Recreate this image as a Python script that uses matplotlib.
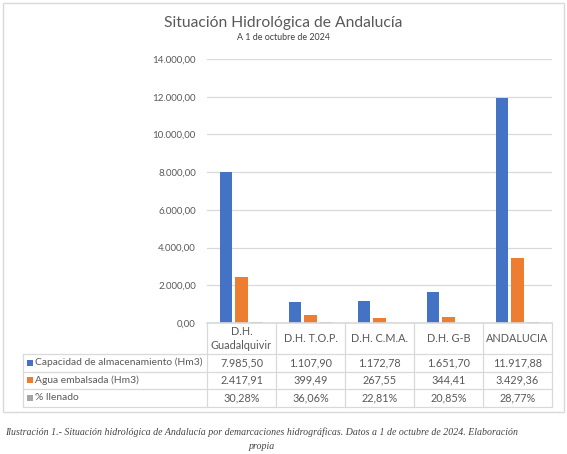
import matplotlib
matplotlib.use("Agg")
import matplotlib.pyplot as plt
import matplotlib.transforms as mtrans
from matplotlib.lines import Line2D
from matplotlib.patches import Rectangle
from matplotlib.ticker import FuncFormatter

# ---------------- data ----------------
categories = ["D.H.\nGuadalquivir", "D.H. T.O.P.", "D.H. C.M.A.", "D.H. G-B", "ANDALUCIA"]
capacidad = [7985.50, 1107.90, 1172.78, 1651.70, 11917.88]
embalsada = [2417.91, 399.49, 267.55, 344.41, 3429.36]
llenado = [30.28, 36.06, 22.81, 20.85, 28.77]
series_names = ["Capacidad de almacenamiento (Hm3)", "Agua embalsada (Hm3)", "% llenado"]
y_ticks = [0, 2000, 4000, 6000, 8000, 10000, 12000, 14000]
title = "Situación Hidrológica de Andalucía"
subtitle = "A 1 de octubre de 2024"
caption1 = ("Ilustración 1.- Situación hidrológica de Andalucía por demarcaciones hidrográficas. "
            "Datos a 1 de octubre de 2024. Elaboración")
caption2 = "propia"

colors = ["#4472C4", "#ED7D31", "#A5A5A5"]
TXT = "#595959"
GRID = "#D9D9D9"
FONT = "Lato"

def es_num(v):
    s = f"{v:,.2f}"
    return s.replace(",", "X").replace(".", ",").replace("X", ".")

def es_pct(v):
    return f"{v:.2f}%".replace(".", ",")

W, H = 567, 454
fig = plt.figure(figsize=(W / 100, H / 100), dpi=100)
fig.patch.set_facecolor("white")

def fx(x):
    return x / W

def fy(y):
    return 1 - y / H

def fit_size(s, target, **kw):
    t = fig.text(0, 0, s, fontsize=10, **kw)
    r = fig.canvas.get_renderer()
    w = t.get_window_extent(r).width
    t.remove()
    return 10 * target / w

# outer border
fig.add_artist(Rectangle((fx(2.5), fy(412)), (564 - 2.5) / W, (412 - 3) / H,
                         transform=fig.transFigure, fill=False, edgecolor=GRID, lw=1))

# ---------------- axes ----------------
ax = fig.add_axes([fx(207), fy(323), (552 - 207) / W, (323 - 59) / H])
ax.set_xlim(-0.5, len(categories) - 0.5)
ax.set_ylim(0, 14000)
width = 0.175
offs = [-0.22, 0.0, 0.22]
for k, vals in enumerate([capacidad, embalsada, llenado]):
    ax.bar([i + offs[k] for i in range(len(categories))], vals, width=width,
           color=colors[k], zorder=3, lw=0)

tick_fs = fit_size("14.000,00", 44, family=FONT)
ax.set_yticks(y_ticks)
ax.yaxis.set_major_formatter(FuncFormatter(lambda v, p: es_num(v)))
ax.tick_params(axis="y", length=0, pad=8, labelsize=tick_fs, labelcolor=TXT)
for lab in ax.get_yticklabels():
    lab.set_family(FONT)
ax.set_xticks([])
ax.yaxis.grid(True, color=GRID, lw=0.9)
ax.set_axisbelow(True)
for sp in ["top", "right", "left"]:
    ax.spines[sp].set_visible(False)
ax.spines["bottom"].set_color(GRID)
ax.spines["bottom"].set_linewidth(1.2)
ax.spines["bottom"].set_zorder(5)

# ---------------- titles ----------------
ts = fit_size(title, 238, family=FONT)
fig.text(fx(283), fy(23.5), title, ha="center", va="center", fontsize=ts, color=TXT, family=FONT)
ss = fit_size(subtitle, 93, family=FONT)
fig.text(fx(283), fy(38), subtitle, ha="center", va="center", fontsize=ss, color="#404040", family=FONT)

# ---------------- data table ----------------
bt = mtrans.blended_transform_factory(ax.transData, fig.transFigure)
right_data = len(categories) - 0.5
right_fig = fig.transFigure.inverted().transform(ax.transData.transform((right_data, 0)))[0]
row_lines = [354, 371.7, 389.3, 406.7]
for yl in row_lines:
    fig.add_artist(Line2D([fx(22.7), right_fig], [fy(yl), fy(yl)], transform=fig.transFigure,
                          color=GRID, lw=0.9))
fig.add_artist(Line2D([fx(22.7), fx(22.7)], [fy(354), fy(406.7)], transform=fig.transFigure,
                      color=GRID, lw=0.9))
for i in range(len(categories) + 1):
    fig.add_artist(Line2D([i - 0.5, i - 0.5], [fy(323), fy(406.7)], transform=bt,
                          color=GRID, lw=0.9))

cell_fs = fit_size("11.917,88", 49, family=FONT)
lab_fs = fit_size(series_names[0], 168, family=FONT)

for i, c in enumerate(categories):
    fig.text(i, fy(338.5), c, transform=bt, ha="center", va="center", fontsize=cell_fs,
             color=TXT, family=FONT, linespacing=1.35)

row_centers = [362.7, 380.3, 398]
rows = [[es_num(v) for v in capacidad], [es_num(v) for v in embalsada], [es_pct(v) for v in llenado]]
for r, (yc, vals) in enumerate(zip(row_centers, rows)):
    fig.add_artist(Rectangle((fx(26.7), fy(yc + 3)), 6 / W, 6 / H, transform=fig.transFigure,
                             color=colors[r], lw=0))
    fig.text(fx(35), fy(yc), series_names[r], ha="left", va="center", fontsize=lab_fs,
             color=TXT, family=FONT)
    for i, s in enumerate(vals):
        fig.text(i, fy(yc), s, transform=bt, ha="center", va="center", fontsize=cell_fs,
                 color=TXT, family=FONT)

# ---------------- caption ----------------
cs = fit_size(caption1, 510, family="Liberation Serif", style="italic")
fig.text(fx(262), fy(431.7), caption1, ha="center", va="center", fontsize=cs,
         color="#444444", family="Liberation Serif", style="italic")
fig.text(fx(262), fy(446.7), caption2, ha="center", va="center", fontsize=cs,
         color="#444444", family="Liberation Serif", style="italic")

fig.savefig("out.png", dpi=100)
